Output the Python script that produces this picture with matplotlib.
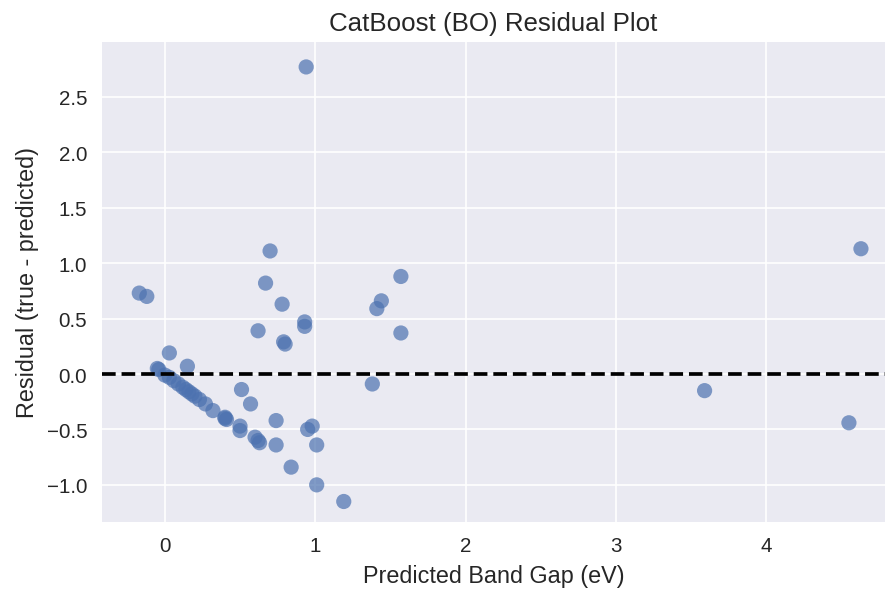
import matplotlib
matplotlib.use("Agg")
import matplotlib.pyplot as plt
import numpy as np

# predicted band gap (eV) and residual (true - predicted)
pred = [0.94, 0.70, 4.63, -0.17, -0.12, 0.67, 1.57, 0.78, 1.44, 1.41,
        0.93, 0.93, 0.62, 1.57, 0.79, 0.80, 0.03, 0.15, -0.05, 1.38,
        3.59, 0.51, 0.57, 4.55, 0.74, 0.40, 0.50, 0.50, 0.95, 0.98,
        0.60, 0.62, 0.63, 0.74, 1.01, 0.84, 1.01, 1.19,
        -0.04, 0.00, 0.03, 0.06, 0.09, 0.12, 0.14, 0.16, 0.18, 0.20,
        0.23, 0.27, 0.32, 0.40, 0.41]
resid = [2.77, 1.11, 1.13, 0.73, 0.70, 0.82, 0.88, 0.63, 0.66, 0.59,
         0.47, 0.43, 0.39, 0.37, 0.29, 0.27, 0.19, 0.07, 0.05, -0.09,
         -0.15, -0.14, -0.27, -0.44, -0.42, -0.39, -0.47, -0.51, -0.50, -0.47,
         -0.57, -0.60, -0.62, -0.64, -0.64, -0.84, -1.00, -1.15,
         0.04, -0.01, -0.03, -0.06, -0.09, -0.12, -0.14, -0.16, -0.18, -0.20,
         -0.23, -0.27, -0.33, -0.40, -0.41]

plt.style.use("seaborn-v0_8-darkgrid")
plt.rcParams['font.family'] = ['Liberation Sans', 'DejaVu Sans']

DPI = 886 / 6
fig = plt.figure(figsize=(6, 592 / DPI), dpi=DPI)
ax = fig.add_axes([101.7/886, 69/592, 783.3/886, 480/592])

ax.scatter(pred, resid, s=55, alpha=0.7, color="#4C72B0", edgecolors="none")
ax.axhline(0, color="black", linestyle="--", linewidth=1.8)

ax.set_xlim(-0.42, 4.79)
ax.set_ylim(-1.335, 2.995)
ax.set_xticks([0, 1, 2, 3, 4])
ax.set_yticks([-1.0, -0.5, 0.0, 0.5, 1.0, 1.5, 2.0, 2.5])
ax.tick_params(axis="both", labelsize=10, pad=7)

ax.set_xlabel("Predicted Band Gap (eV)", fontsize=11.4)
ax.set_ylabel("Residual (true - predicted)", fontsize=11.4)
ax.set_title("CatBoost (BO) Residual Plot", fontsize=12.6)

fig.savefig("out.png", dpi=DPI)
